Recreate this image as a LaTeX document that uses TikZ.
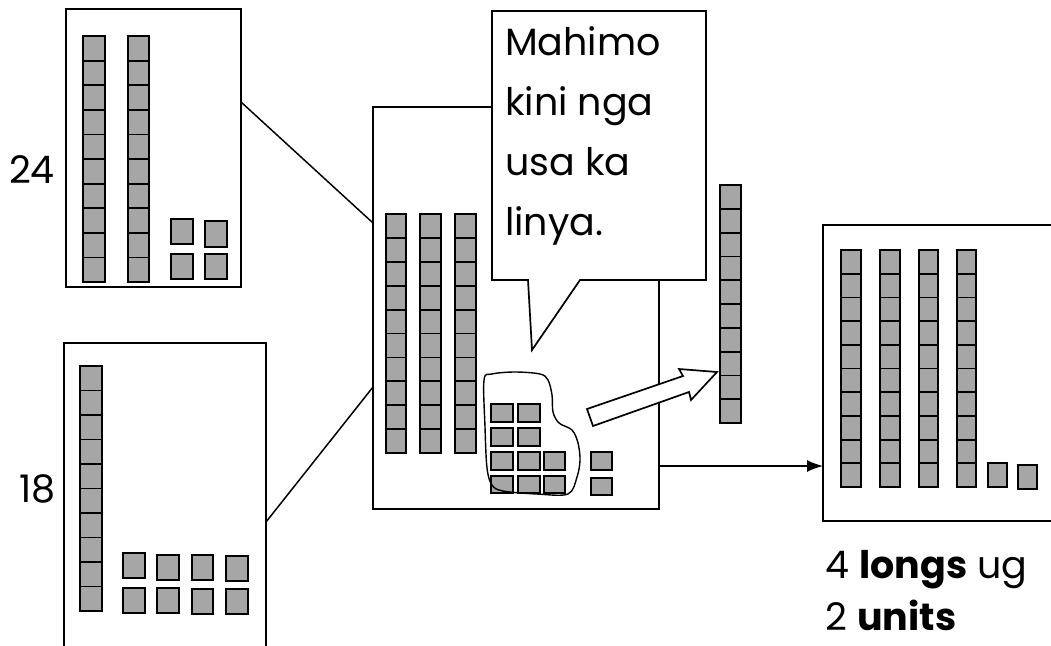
\documentclass[tikz,border=0pt]{standalone}
\usepackage{fontspec}
\setmainfont{Poppins}
\usetikzlibrary{arrows.meta}
\definecolor{cellgray}{RGB}{166,166,166}
\newcommand{\drawlong}[4]{\foreach \k in {0,...,9}{\draw[cell] (#1,{#2+\k*#4}) rectangle ++(#3,#4);}}
\newcommand{\drawunit}[4]{\draw[cell] (#1,#2) rectangle (#3,#4);}
\begin{document}
\begin{tikzpicture}[x=1pt,y=-1pt,
  box/.style={draw=black,line width=1.7pt,fill=white},
  cell/.style={draw=black,line width=1.8pt,fill=cellgray},
  lasso/.style={draw=black,line width=1.4pt},
  link/.style={draw=black,line width=1.5pt},
  lbl/.style={inner sep=0pt,font=\fontsize{38}{46}\selectfont}]
\useasboundingbox (0,0) rectangle (1051,645);
\clip (0,0) rectangle (1051,645);
% boxes
\coordinate (b24tl) at (66,9);   \coordinate (b24br) at (241,287);
\coordinate (b18tl) at (64,343); \coordinate (b18br) at (266,660);
\coordinate (cbtl) at (373,107); \coordinate (cbbr) at (659,509);
\coordinate (rbtl) at (823,225); \coordinate (rbbr) at (1070,521);
\draw[box] (b24tl) rectangle (b24br);
\draw[box] (b18tl) rectangle (b18br);
\draw[box] (cbtl) rectangle (cbbr);
\draw[box] (rbtl) rectangle (rbbr);
% connectors
\coordinate (l1a) at (241,102); \coordinate (l1b) at (373,223);
\coordinate (l2a) at (266,522); \coordinate (l2b) at (373,387);
\draw[link] (l1a) -- (l1b);
\draw[link] (l2a) -- (l2b);
\coordinate (ara) at (659,466); \coordinate (arb) at (823,466);
\draw[link,-{Latex[length=16pt,width=12pt]}] (ara) -- (arb);
% labels
\node[lbl,anchor=base east] (n24) at (55,183) {24};
\node[lbl,anchor=base east] (n18) at (56,502) {18};
% top-left box content
\drawlong{83}{36}{22}{24.6}
\drawlong{128}{36}{21}{24.6}
\drawunit{171}{219}{193}{244}
\drawunit{205}{221}{227}{247}
\drawunit{171}{254}{193}{279}
\drawunit{205}{254}{227}{279}
% bottom-left box content
\drawlong{80}{366}{22}{24.5}
\drawunit{123}{553}{145}{578}
\drawunit{157}{555}{179}{580}
\drawunit{192}{555}{213}{580}
\drawunit{226}{556}{248}{581}
\drawunit{123}{588}{145}{613}
\drawunit{157}{588}{179}{613}
\drawunit{192}{589}{213}{614}
\drawunit{226}{589}{248}{614}
% centre box content
\drawlong{386}{214}{20}{23.9}
\drawlong{420}{214}{21}{23.9}
\drawlong{455}{214}{21}{23.9}
\drawunit{491}{404}{513}{422}
\drawunit{518}{404}{540}{422}
\drawunit{491}{428}{513}{446}
\drawunit{518}{428}{540}{446}
\drawunit{491}{452}{513}{470}
\drawunit{518}{452}{540}{470}
\drawunit{544}{452}{565}{470}
\drawunit{491}{476}{513}{493}
\drawunit{518}{476}{540}{493}
\drawunit{544}{476}{565}{493}
\drawunit{591}{452}{612}{470}
\drawunit{591}{478}{612}{495}
% lasso
\draw[lasso] plot[smooth cycle, tension=0.55] coordinates {
 (484,380) (492,374) (515,372) (540,374) (548,380) (552,395) (553,412)
 (559,423) (572,430) (578,443) (580,460) (577,477) (568,494)
 (537,494) (503,491) (492,485) (487,468) (485,427)};
% speech bubble
\coordinate (cq1) at (492,11); \coordinate (cq2) at (706,11);
\coordinate (cq3) at (706,280); \coordinate (cq4) at (580,280);
\coordinate (ctip) at (532,350); \coordinate (cq5) at (528,280);
\coordinate (cq6) at (492,280);
\draw[box,line join=miter] (cq1) -- (cq2) -- (cq3) -- (cq4) -- (ctip) -- (cq5) -- (cq6) -- cycle;
\node[lbl,anchor=base west] (t1) at (505,55) {Mahimo};
\node[lbl,anchor=base west] (t2) at (505,115) {kini nga};
\node[lbl,anchor=base west] (t3) at (505,175) {usa ka};
\node[lbl,anchor=base west] (t4) at (505,235) {linya.};
% block arrow
\coordinate (ba1) at (587,409); \coordinate (ba2) at (683,376);
\coordinate (ba3) at (679,369); \coordinate (batip) at (717,372);
\coordinate (ba4) at (691,400); \coordinate (ba5) at (689,392);
\coordinate (ba6) at (593,426);
\draw[box,line join=miter] (ba1) -- (ba2) -- (ba3) -- (batip) -- (ba4) -- (ba5) -- (ba6) -- cycle;
% separate long
\drawlong{720}{185}{21}{23.8}
% right box content
\drawlong{841}{250}{20}{23.7}
\drawlong{880}{250}{20}{23.7}
\drawlong{919}{250}{19}{23.7}
\drawlong{957}{250}{19}{23.7}
\drawunit{988}{463}{1007}{487}
\drawunit{1018}{465}{1037}{489}
% result text
\node[lbl,anchor=base west] (r1) at (825,578) {4 \textbf{longs} ug};
\node[lbl,anchor=base west] (r2) at (825,630) {2 \textbf{units}};
\end{tikzpicture}
\end{document}
